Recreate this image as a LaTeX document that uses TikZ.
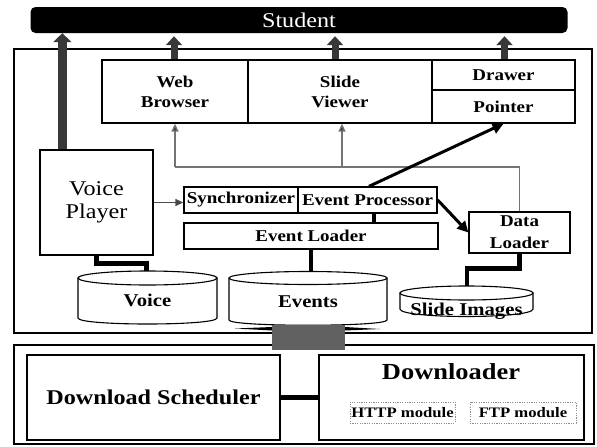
\documentclass[tikz,border=0pt]{standalone}
\usepackage{fontspec}
\setmainfont{Liberation Serif}[FakeStretch=1.15]
\usetikzlibrary{arrows.meta,shapes.geometric}

\tikzset{
  frame/.style={draw, line width=1.3pt, inner sep=0pt},
  box/.style={draw, line width=1.3pt, inner sep=0pt, align=center,
    font=\bfseries\fontsize{16.5}{20}\selectfont},
  module/.style={draw=black!45, dash pattern=on 1.2pt off 1.2pt, line width=0.9pt,
    inner sep=0pt, font=\bfseries\fontsize{14.5}{17}\selectfont},
  label/.style={font=\bfseries\fontsize{18}{20}\selectfont, inner sep=0pt},
  bigarrow/.style={draw=black!78, line width=7pt,
    -{Triangle[width=16pt,length=9pt,fill=black!78]}},
  thinline/.style={draw=black!55, line width=1.4pt},
  thinarrow/.style={thinline, -{Triangle[width=7pt,length=8pt,fill=black!75]}},
  boldarrow/.style={draw=black, line width=3pt, -{Triangle[width=11pt,length=11pt]}},
  link/.style={draw=black, line width=4.5pt},
}

\begin{document}
\begin{tikzpicture}[x=1pt,y=-1pt]
\useasboundingbox (0,0) rectangle (597,447);

% user bar
\node[fill=black, rounded corners=5pt, minimum width=537pt, minimum height=26pt,
      inner sep=0pt, text=white, font=\fontsize{21}{22}\selectfont]
      (student) at (299,20) {Student};

% client and download frames
\node[frame, minimum width=578pt, minimum height=284pt] (client) at (303,191) {};
\node[frame, minimum width=580pt, minimum height=99pt] (netpart) at (304,394.5) {};

% presentation components
\node[box, minimum width=146pt, minimum height=63pt] (web) at (175,91.5)
  {\fontsize{16.5}{20}\selectfont Web\\Browser};
\node[box, minimum width=184pt, minimum height=63pt] (slide) at (340,91.5)
  {\fontsize{16.5}{17}\selectfont Slide\\Viewer};
\node[box, minimum width=143pt, minimum height=30pt] (drawer) at (503.5,75) {Drawer};
\node[box, minimum width=143pt, minimum height=33pt] (pointer) at (503.5,106.5) {Pointer};

\node[box, minimum width=113pt, minimum height=105pt,
      font=\fontsize{21}{23}\selectfont] (voiceplayer) at (96.5,202.5) {Voice\\Player};

\node[box, minimum width=114pt, minimum height=26pt] (sync) at (241,200) {Synchronizer};
\node[box, minimum width=139pt, minimum height=26pt] (evproc) at (367.5,200) {Event Processor};
\node[box, minimum width=254pt, minimum height=26pt] (evloader) at (311,236) {Event Loader};
\node[box, minimum width=101pt, minimum height=41pt,
      font=\bfseries\fontsize{16.5}{22}\selectfont] (dataloader) at (519.5,232.5) {Data\\Loader};

% storage cylinders
\draw[line width=1.1pt, fill=white] (78,278) -- (78,318)
  .. controls (78,326) and (217,326) .. (217,318) -- (217,278);
\draw[line width=1.1pt, fill=white] (147.5,278) ellipse [x radius=69.5, y radius=7];
\node[label] (voicelbl) at (147.5,300) {Voice};
\coordinate (voicetop) at (146.5,271);

\draw[line width=1.1pt, fill=white] (229,278) -- (229,320)
  .. controls (229,327) and (387,327) .. (387,320) -- (387,278);
\draw[line width=1.1pt, fill=white] (308,278) ellipse [x radius=79, y radius=6.5];
\node[label] (eventslbl) at (308,302) {Events};
\coordinate (eventstop) at (311,271.5);

\draw[line width=1.1pt, fill=white] (400,293) -- (400,309)
  .. controls (400,319) and (533,319) .. (533,309) -- (533,293);
\draw[line width=1.1pt, fill=white] (466.5,293) ellipse [x radius=66.5, y radius=7];
\node[label] (slideslbl) at (466.5,311) {Slide Images};
\coordinate (slidestop) at (467,286);

% link between the stores and the downloader
\fill[black] (235,328.5) -- (272,327) -- (345,327) -- (380,329) -- (345,330.5) -- (272,330.5) -- cycle;
\node[fill=black!62, minimum width=73pt, minimum height=25pt, inner sep=0pt]
  (gate) at (308.5,337.5) {};

% download part
\node[box, minimum width=253pt, minimum height=85pt,
      font=\bfseries\fontsize{21}{23}\selectfont] (sched) at (153.5,397.5) {Download Scheduler};
\node[box, minimum width=265pt, minimum height=85pt] (dl) at (451.5,397.5) {};
\node[font=\bfseries\fontsize{23}{25}\selectfont, inner sep=0pt] (dltitle) at (451,372) {Downloader};
\node[module, minimum width=105pt, minimum height=21pt] (http) at (402.5,412.5) {HTTP module};
\node[module, minimum width=106pt, minimum height=21pt] (ftp) at (523,412.5) {FTP module};

% outputs towards the student
\draw[bigarrow, line width=9pt, -{Triangle[width=18pt,length=9pt,fill=black!78]}]
  ([xshift=23pt]voiceplayer.north west) -- ([xshift=23pt]voiceplayer.north west |- student.south);
\draw[bigarrow] ([xshift=-1pt]web.north) -- ([xshift=-1pt,yshift=-3pt]web.north |- student.south);
\draw[bigarrow] ([xshift=-5pt]slide.north) -- ([xshift=-5pt,yshift=-3pt]slide.north |- student.south);
\draw[bigarrow] ([xshift=1pt]drawer.north) -- ([xshift=1pt,yshift=-3pt]drawer.north |- student.south);

% data loader feeding the viewers
\coordinate (bus) at (0,167);
\draw[thinline] (dataloader.north) -- (dataloader.north |- bus) -- (web.south |- bus);
\draw[thinarrow] (web.south |- bus) -- (web.south);
\draw[thinarrow] ([xshift=2pt]slide.south |- bus) -- ([xshift=2pt]slide.south);

% control flow
\draw[thinarrow, draw=black!70] (voiceplayer.east) -- (sync.west |- voiceplayer.east);
\draw[boldarrow] ([xshift=1.5pt]evproc.north) -- (pointer.south);
\draw[boldarrow] (evproc.east) -- (dataloader.west);

% data links
\draw[link] ([xshift=6.5pt]evproc.south) -- ([xshift=6.5pt]evproc.south |- evloader.north);
\draw[link] (evloader.south) -- (eventstop);
\draw[link] (voiceplayer.south) -- ++(0,8) -| (voicetop);
\draw[link] (dataloader.south) -- ++(0,15) -| (slidestop);
\draw[link] (sched.east) -- (dl.west);
\end{tikzpicture}
\end{document}
